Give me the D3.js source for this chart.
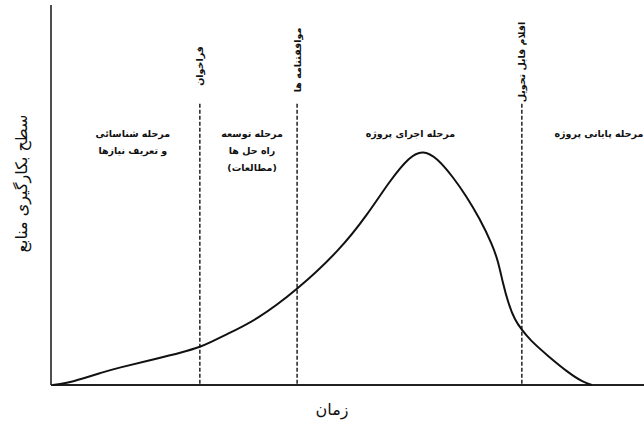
<!DOCTYPE html>
<html>
<head>
<meta charset="utf-8">
<script src="https://cdn.jsdelivr.net/npm/d3@7"></script>
<style>
  body { margin: 0; background: #fff; }
  text { font-family: "DejaVu Sans", sans-serif; fill: #111; }
</style>
</head>
<body>
<main></main>
<script>
// chart size
const w = 644;
const h = 424;

// curve: time (0-100) vs resource usage level (0-100)
const zaman = [0.3, 2.2, 5.6, 8.4, 11.3, 16.9, 22.4, 25.1, 27.0, 29.0, 34.7, 41.5, 48.7, 53.3, 57.2, 60.5, 62.7, 65.1, 67.8, 70.0, 72.3, 74.4, 75.4, 76.2, 77.1, 78.2, 79.4, 80.8, 83.6, 87.5, 89.7, 91.2, 91.2];
const manabe = [0, 0.3, 1.8, 3.2, 4.5, 6.6, 8.7, 10.0, 11.3, 12.9, 17.1, 25.0, 35.5, 44.7, 53.9, 60.2, 61.8, 59.8, 54.7, 49.8, 43.8, 37.0, 32.6, 26.8, 21.6, 17.1, 14.5, 11.8, 7.9, 2.9, 0.8, 0, 0];

// milestones (dashed lines)
const noghat = [25.1, 41.5, 79.4];
const nameNoghat = ['فراخوان', 'موافقتنامه ها', 'اقلام قابل تحویل'];

// phases
const marahel = [
    ['مرحله شناسائی', 'و تعریف نیازها'],
    ['مرحله توسعه', 'راه حل ها', '(مطالعات)'],
    ['مرحله اجرای پروژه'],
    ['مرحله پایانی پروژه']
];
const markazMarahel = [13.8, 33.9, 60.6, 92.4];

const svg = d3.select('main')
    .append('svg')
    .attr('width', w)
    .attr('height', h);

// scales
const x = d3.scaleLinear().domain([0, 100]).range([51, 644]);
const y = d3.scaleLinear().domain([0, 100]).range([385, 5]);

// axes (plain lines, no ticks)
svg.append('line')
    .attr('x1', x(0)).attr('x2', x(0))
    .attr('y1', y(100)).attr('y2', y(0))
    .attr('stroke', '#222').attr('stroke-width', 1.6);

svg.append('line')
    .attr('x1', x(0)).attr('x2', x(100))
    .attr('y1', y(0)).attr('y2', y(0))
    .attr('stroke', '#222').attr('stroke-width', 2);

// milestone dashed lines
svg.selectAll('.milestone')
    .data(noghat)
    .enter()
    .append('line')
    .attr('class', 'milestone')
    .attr('x1', d => x(d)).attr('x2', d => x(d))
    .attr('y1', y(74)).attr('y2', y(0))
    .attr('stroke', '#222')
    .attr('stroke-width', 1.5)
    .attr('stroke-dasharray', '4,2');

// milestone names, vertical
const markazNam = [66, 60, 62];
svg.selectAll('.mname')
    .data(nameNoghat)
    .enter()
    .append('text')
    .attr('class', 'mname')
    .attr('transform', (d, i) => `translate(${x(noghat[i]) + 3.5},${markazNam[i]}) rotate(-90)`)
    .attr('text-anchor', 'middle')
    .style('font-size', '9.5px')
    .style('font-weight', 'bold')
    .text(d => d);

// phase labels
marahel.forEach((lines, i) => {
    const t = svg.append('text')
        .attr('text-anchor', 'middle')
        .style('font-size', '9.5px')
        .style('font-weight', 'bold');
    lines.forEach((s, j) => {
        t.append('tspan')
            .attr('x', x(markazMarahel[i]))
            .attr('y', 137 + j * 17)
            .text(s);
    });
});

// curve (smoothed through the read points)
const line = d3.line()
    .x(d => x(d[0]))
    .y(d => y(d[1]))
    .curve(d3.curveBasis);

svg.append('path')
    .datum(d3.zip(zaman, manabe))
    .attr('d', line)
    .attr('fill', 'none')
    .attr('stroke', '#111')
    .attr('stroke-width', 2);

// axis titles
svg.append('text')
    .attr('transform', `translate(27,${y(53)}) rotate(-90)`)
    .attr('text-anchor', 'middle')
    .style('font-size', '16px')
    .text('سطح بکارگیری منابع');

svg.append('text')
    .attr('x', 332)
    .attr('y', 415)
    .attr('text-anchor', 'middle')
    .style('font-size', '16px')
    .text('زمان');
</script>
</body>
</html>
